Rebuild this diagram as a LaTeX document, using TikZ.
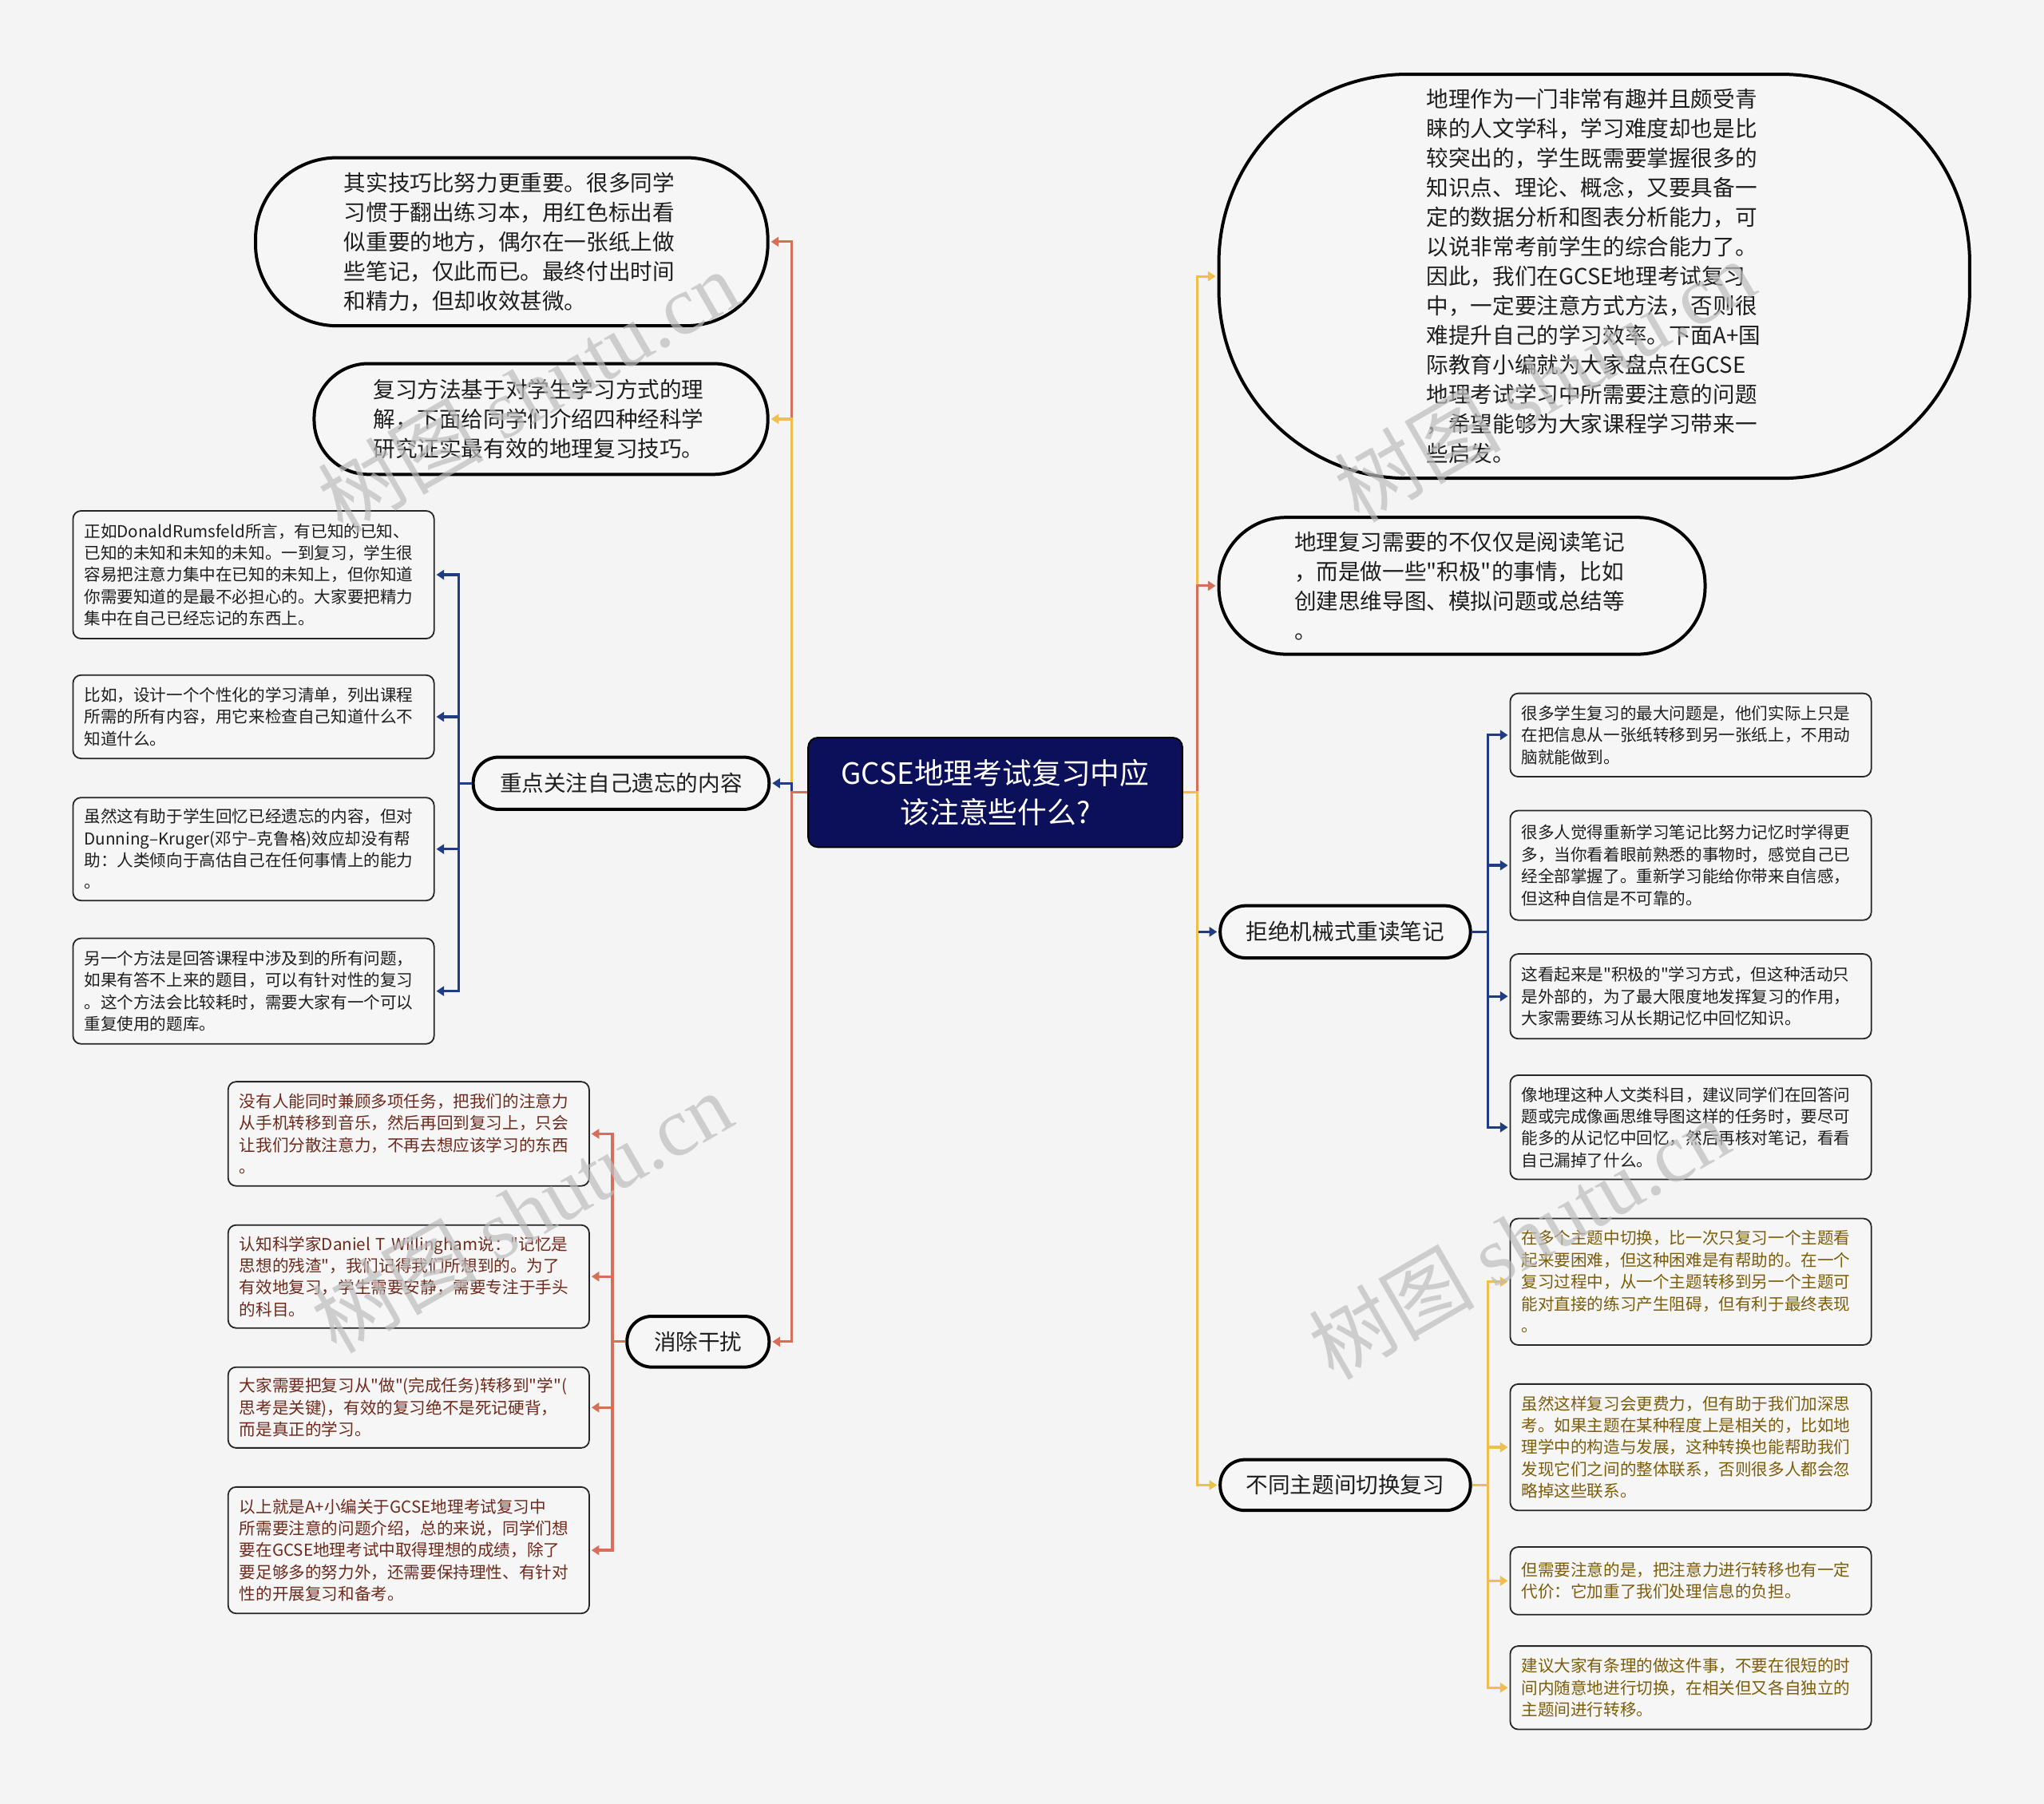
\documentclass[tikz,border=0pt]{standalone}
\usepackage{fontspec}
\setmainfont{Noto Sans CJK SC}[Ligatures=TeXOff]
\newfontfamily\wmserif{Liberation Serif}
\usetikzlibrary{arrows.meta}
\definecolor{bgc}{HTML}{F4F4F4}
\definecolor{nodefill}{HTML}{F6F6F6}
\definecolor{rootfill}{HTML}{0C105A}
\definecolor{redc}{HTML}{D96E58}
\definecolor{yelc}{HTML}{F0BE4C}
\definecolor{bluc}{HTML}{1F3C84}
\definecolor{redtext}{HTML}{6E2A1C}
\definecolor{yeltext}{HTML}{7D5D0A}
\definecolor{darktext}{HTML}{1E1E1E}
\definecolor{wmc}{HTML}{BDBDBD}
\newcommand{\fntroot}{\fontsize{18.4pt}{24.5pt}\selectfont}
\newcommand{\fntmid}{\fontsize{13.8pt}{18.5pt}\selectfont}
\newcommand{\fntleaf}{\fontsize{10.3pt}{13.7pt}\selectfont}
\tikzset{
  rootbox/.style={draw=black, line width=1pt, fill=rootfill, text=white, rounded corners=6pt,
    minimum width=234.3pt, minimum height=68.6pt, align=center, inner sep=0pt, font=\fntroot},
  topic/.style={draw=black, line width=2pt, fill=nodefill, text=darktext, inner sep=0pt, font=\fntmid},
  para/.style={topic, text width=210pt, align=left},
  leaf/.style={draw=black!85, line width=0.9pt, fill=nodefill, rounded corners=5pt,
    minimum width=226.1pt, text width=212pt, align=left, inner sep=0pt, font=\fntleaf},
  conn/.style={line width=1.6pt, -{Triangle[length=4.8pt,width=6pt]}, shorten >=1pt},
  redln/.style={conn, draw=redc},
  yelln/.style={conn, draw=yelc},
  bluln/.style={conn, draw=bluc},
  wm/.style={text=wmc, opacity=0.7, rotate=30, font=\fontsize{52pt}{52pt}\selectfont, inner sep=0pt}
}
\begin{document}
\begin{tikzpicture}[x=0.81633pt, y=-0.81633pt]
\fill[bgc] (0,0) rectangle (1568,1384);
\useasboundingbox (0,0) rectangle (1568,1384);

% root
\node[rootbox] (root) at (763.5,608) {GCSE地理考试复习中应\\该注意些什么?};

% left topics
\node[para, minimum width=320.8pt, minimum height=105.3pt, rounded corners=51pt] (L1) at (392.5,185.5)
{其实技巧比努力更重要。很多同学\\习惯于翻出练习本，用红色标出看\\似重要的地方，偶尔在一张纸上做\\些笔记，仅此而已。最终付出时间\\和精力，但却收效甚微。};
\node[para, minimum width=284.1pt, minimum height=69.4pt, rounded corners=34pt] (L2) at (415,321.5)
{复习方法基于对学生学习方式的理\\解，下面给同学们介绍四种经科学\\研究证实最有效的地理复习技巧。};
\node[topic, minimum width=185.3pt, minimum height=32.7pt, rounded corners=16pt] (L3) at (476.5,601)
{重点关注自己遗忘的内容};
\node[topic, minimum width=89pt, minimum height=31.8pt, rounded corners=15.5pt] (L4) at (535.5,1029.5)
{消除干扰};

% right topics
\node[para, minimum width=470.2pt, minimum height=253.1pt, rounded corners=118pt] (R1) at (1223,212)
{地理作为一门非常有趣并且颇受青\\睐的人文学科，学习难度却也是比\\较突出的，学生既需要掌握很多的\\知识点、理论、概念，又要具备一\\定的数据分析和图表分析能力，可\\以说非常考前学生的综合能力了。\\因此，我们在GCSE地理考试复习\\中，一定要注意方式方法，否则很\\难提升自己的学习效率。下面A+国\\际教育小编就为大家盘点在GCSE\\地理考试学习中所需要注意的问题\\，希望能够为大家课程学习带来一\\些启发。};
\node[para, minimum width=304.5pt, minimum height=85.7pt, rounded corners=42pt] (R2) at (1121.5,449.5)
{地理复习需要的不仅仅是阅读笔记\\，而是做一些"积极"的事情，比如\\创建思维导图、模拟问题或总结等\\。};
\node[topic, minimum width=156.7pt, minimum height=32.7pt, rounded corners=16pt] (R3) at (1032,715)
{拒绝机械式重读笔记};
\node[topic, minimum width=156.7pt, minimum height=31.8pt, rounded corners=15.5pt] (R4) at (1032,1139.5)
{不同主题间切换复习};

% leaves of L3
\node[leaf, text=darktext, minimum height=80pt] (a) at (194.5,441)
{正如DonaldRumsfeld所言，有已知的已知、\\已知的未知和未知的未知。一到复习，学生很\\容易把注意力集中在已知的未知上，但你知道\\你需要知道的是最不必担心的。大家要把精力\\集中在自己已经忘记的东西上。};
\node[leaf, text=darktext, minimum height=52.2pt] (b) at (194.5,550)
{比如，设计一个个性化的学习清单，列出课程\\所需的所有内容，用它来检查自己知道什么不\\知道什么。};
\node[leaf, text=darktext, minimum height=64.5pt] (c) at (194.5,651.5)
{虽然这有助于学生回忆已经遗忘的内容，但对\\Dunning–Kruger(邓宁–克鲁格)效应却没有帮\\助：人类倾向于高估自己在任何事情上的能力\\。};
\node[leaf, text=darktext, minimum height=66.1pt] (d) at (194.5,760.5)
{另一个方法是回答课程中涉及到的所有问题，\\如果有答不上来的题目，可以有针对性的复习\\。这个方法会比较耗时，需要大家有一个可以\\重复使用的题库。};

% leaves of L4
\node[leaf, text=redtext, minimum height=65.3pt] (e) at (313.5,870)
{没有人能同时兼顾多项任务，把我们的注意力\\从手机转移到音乐，然后再回到复习上，只会\\让我们分散注意力，不再去想应该学习的东西\\。};
\node[leaf, text=redtext, minimum height=64.5pt] (f) at (313.5,979.5)
{认知科学家Daniel T Willingham说："记忆是\\思想的残渣"，我们记得我们所想到的。为了\\有效地复习，学生需要安静，需要专注于手头\\的科目。};
\node[leaf, text=redtext, minimum height=50.6pt] (g) at (313.5,1080)
{大家需要把复习从"做"(完成任务)转移到"学"(\\思考是关键)，有效的复习绝不是死记硬背，\\而是真正的学习。};
\node[leaf, text=redtext, minimum height=79.2pt] (h) at (313.5,1189.5)
{以上就是A+小编关于GCSE地理考试复习中\\所需要注意的问题介绍，总的来说，同学们想\\要在GCSE地理考试中取得理想的成绩，除了\\要足够多的努力外，还需要保持理性、有针对\\性的开展复习和备考。};

% leaves of R3
\node[leaf, text=darktext, minimum height=52.2pt] (i) at (1297,564)
{很多学生复习的最大问题是，他们实际上只是\\在把信息从一张纸转移到另一张纸上，不用动\\脑就能做到。};
\node[leaf, text=darktext, minimum height=68.6pt] (j) at (1297,664)
{很多人觉得重新学习笔记比努力记忆时学得更\\多，当你看着眼前熟悉的事物时，感觉自己已\\经全部掌握了。重新学习能给你带来自信感，\\但这种自信是不可靠的。};
\node[leaf, text=darktext, minimum height=53.1pt] (k) at (1297,764.5)
{这看起来是"积极的"学习方式，但这种活动只\\是外部的，为了最大限度地发挥复习的作用，\\大家需要练习从长期记忆中回忆知识。};
\node[leaf, text=darktext, minimum height=65.3pt] (l) at (1297,865)
{像地理这种人文类科目，建议同学们在回答问\\题或完成像画思维导图这样的任务时，要尽可\\能多的从记忆中回忆，然后再核对笔记，看看\\自己漏掉了什么。};

% leaves of R4
\node[leaf, text=yeltext, minimum height=79.2pt] (m) at (1297,983.5)
{在多个主题中切换，比一次只复习一个主题看\\起来要困难，但这种困难是有帮助的。在一个\\复习过程中，从一个主题转移到另一个主题可\\能对直接的练习产生阻碍，但有利于最终表现\\。};
\node[leaf, text=yeltext, minimum height=79.2pt] (n) at (1297,1110.5)
{虽然这样复习会更费力，但有助于我们加深思\\考。如果主题在某种程度上是相关的，比如地\\理学中的构造与发展，这种转换也能帮助我们\\发现它们之间的整体联系，否则很多人都会忽\\略掉这些联系。};
\node[leaf, text=yeltext, minimum height=42.4pt] (o) at (1297,1213)
{但需要注意的是，把注意力进行转移也有一定\\代价：它加重了我们处理信息的负担。};
\node[leaf, text=yeltext, minimum height=52.2pt] (p) at (1297,1295)
{建议大家有条理的做这件事，不要在很短的时\\间内随意地进行切换，在相关但又各自独立的\\主题间进行转移。};

% main connectors
\draw[redln] (root.west) -- ++(-12,0) |- (L1.east);
\draw[yelln] (root.west) -- ++(-12,0) |- (L2.east);
\draw[bluln] (root.west) -- ++(-12,0) |- (L3.east);
\draw[redln] (root.west) -- ++(-12,0) |- (L4.east);
\draw[yelln] (root.east) -- ++(11,0) |- (R1.west);
\draw[redln] (root.east) -- ++(11,0) |- (R2.west);
\draw[bluln] (root.east) -- ++(11,0) |- (R3.west);
\draw[yelln] (root.east) -- ++(11,0) |- (R4.west);

% sub connectors
\foreach \t in {a,b,c,d} \draw[bluln] (L3.west) -- ++(-10,0) |- (\t.east);
\foreach \t in {e,f,g,h} \draw[redln] (L4.west) -- ++(-10,0) |- (\t.east);
\foreach \t in {i,j,k,l} \draw[bluln] (R3.east) -- ++(12,0) |- (\t.west);
\foreach \t in {m,n,o,p} \draw[yelln] (R4.east) -- ++(12,0) |- (\t.west);

% watermarks
\node[wm] (wm1) at (405,300) {树图 {\wmserif shutu.cn}};
\node[wm] (wm2) at (1185,292) {树图 {\wmserif shutu.cn}};
\node[wm] (wm3) at (400,930) {树图 {\wmserif shutu.cn}};
\node[wm] (wm4) at (1165,950) {树图 {\wmserif shutu.cn}};
\end{tikzpicture}
\end{document}
